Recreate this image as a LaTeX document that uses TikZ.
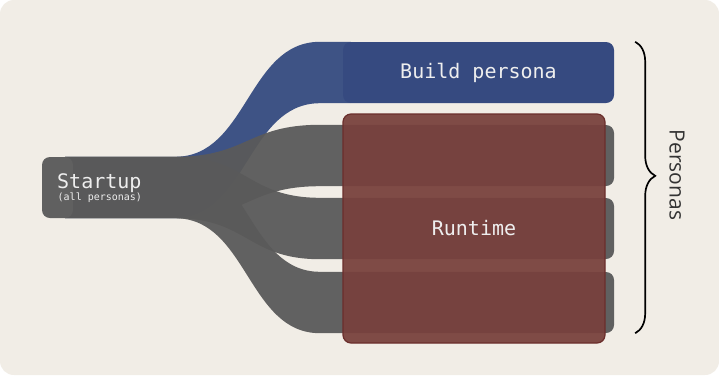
\documentclass[tikz,border=0pt]{standalone}
\usepackage{fontspec}
\newfontfamily\codefont{DejaVu Sans Mono}
\newfontfamily\labelfont{Open Sans}
\usetikzlibrary{calc,positioning,decorations.pathreplacing}
\definecolor{paper}{HTML}{F1EDE6}
\definecolor{slate}{HTML}{5A5A5A}
\definecolor{slatenode}{HTML}{606060}
\definecolor{navy}{HTML}{364A80}
\definecolor{navyflow}{HTML}{3E5385}
\definecolor{wine}{RGB}{120,65,61}
\definecolor{wineedge}{HTML}{6B2E2C}
\definecolor{chalk}{HTML}{EEEEEE}
\pgfdeclarelayer{paper}
\pgfdeclarelayer{flows}
\pgfsetlayers{paper,flows,main}
\tikzset{
  box/.style={rectangle,rounded corners=8pt,inner sep=0pt,text=chalk,
    font=\codefont\fontsize{20}{24}\selectfont},
  srcbox/.style={box,fill=slatenode,minimum width=31pt,minimum height=61pt},
  buildbox/.style={box,fill=navy,minimum width=271pt,minimum height=61pt},
  sinkbox/.style={box,fill=slatenode,minimum width=34pt,minimum height=61pt},
  runbox/.style={box,fill=wine,fill opacity=0.94,text opacity=1,draw=wineedge,
    line width=1.2pt,minimum width=262pt,minimum height=229pt},
  band/.style={fill=slate,fill opacity=0.95},
  blueband/.style={fill=navyflow},
  brace/.style={decorate,decoration={brace,amplitude=20pt,aspect=0.46},line width=1.7pt},
  every node/.style={font=\codefont}
}

\begin{document}
\begin{tikzpicture}[x=1pt,y=-1pt]
\useasboundingbox (0,0) rectangle (719,375);
\begin{pgfonlayer}{paper}
\fill[white] (0,0) rectangle (719,375);
\fill[paper,rounded corners=14pt] (0,0) rectangle (719,375);
\end{pgfonlayer}

% source and sinks
\node[srcbox] (startup) at (57.5,187.5) {};
\node[buildbox] (build) at (478.5,72.5) {Build persona};
\node[sinkbox] (run1) at (597,155.5) {};
\node[sinkbox] (run2) at (597,228.5) {};
\node[sinkbox] (run3) at (597,302.5) {};
\node[runbox] (runtime) at (474,228.5) {Runtime};

\node[anchor=base west,text=chalk,font=\codefont\fontsize{20}{24}\selectfont,inner sep=0pt]
  (startuplbl) at (57,188) {Startup};
\node[anchor=base west,text=chalk,font=\codefont\fontsize{10}{12}\selectfont,inner sep=0pt]
  (startupsub) at (57.5,200.5) {(all personas)};

% bands fan out from startup
\coordinate (fork) at (175,0);
\coordinate (mid) at (247.5,0);
\coordinate (merge) at (320,0);
\begin{pgfonlayer}{flows}
\foreach \t/\sty in {build/blueband,run1/band,run2/band,run3/band}{
  \fill[\sty] ($(startup.north east)+(-8,0)$) -- (fork |- startup.north)
    .. controls (mid |- startup.north) and (mid |- \t.north) .. (merge |- \t.north)
    -- ($(\t.north west)+(8,0)$) -- ($(\t.south west)+(8,0)$) -- (merge |- \t.south)
    .. controls (mid |- \t.south) and (mid |- startup.south) .. (fork |- startup.south)
    -- ($(startup.south east)+(-8,0)$) -- cycle;
}
\end{pgfonlayer}

% personas brace
\draw[brace] ($(build.north east)+(21,0)$) coordinate (bracetop)
  -- ($(run3.south east)+(21,0)$) coordinate (bracebot);
\node[font=\labelfont\fontsize{21}{24}\selectfont,text=black!80,rotate=-90]
  (personas) at (677,175) {Personas};
\end{tikzpicture}
\end{document}
